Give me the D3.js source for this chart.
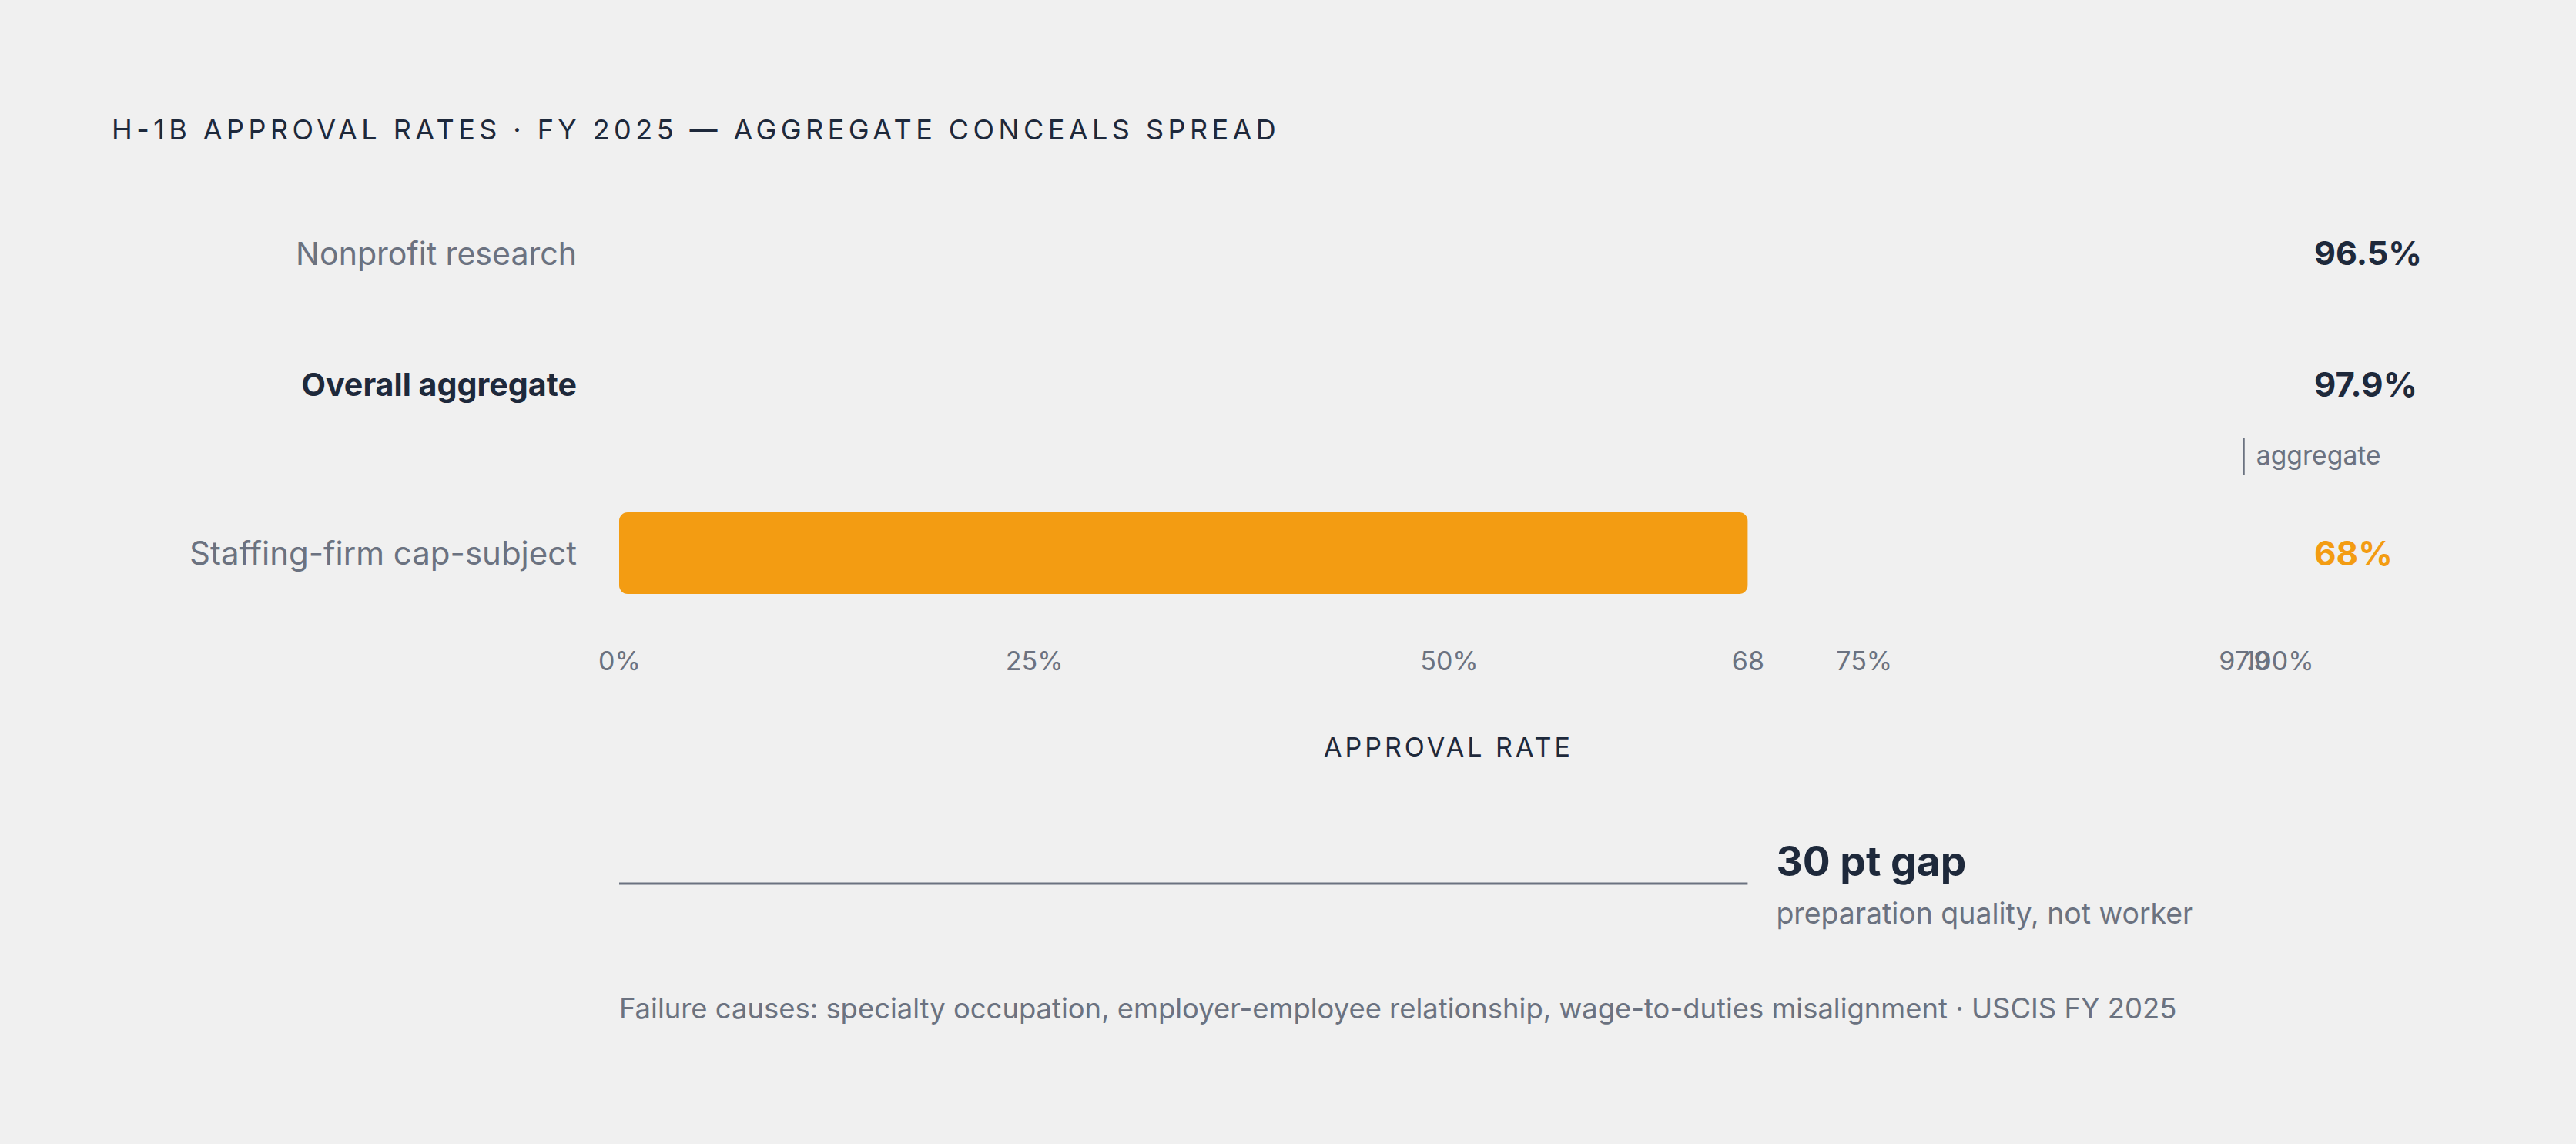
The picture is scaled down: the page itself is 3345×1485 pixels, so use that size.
<!DOCTYPE html>
<html>
<head>
<meta charset="utf-8">
<script src="https://cdn.jsdelivr.net/npm/d3@7"></script>
<style>
  html, body { margin: 0; padding: 0; background: #f0f0f0; }
  svg { display: block; }
  text { font-family: Inter, "Noto Sans", "DejaVu Sans", sans-serif; }
</style>
</head>
<body>
<svg id="chart" width="3345" height="1485"></svg>
<script>
// ---- data ----
const title = "H-1B APPROVAL RATES · FY 2025 — AGGREGATE CONCEALS SPREAD";
const categories = ["Nonprofit research", "Overall aggregate", "Staffing-firm cap-subject"];
const values = [96.5, 97.9, 68];
const valueLabels = ["96.5%", "97.9%", "68%"];
const highlighted = [false, false, true];
const emphasised = [false, true, false];
const axisTicks = [0, 25, 50, 75, 100];
const markerTicks = [68, 97.9];
const aggregateLabel = "aggregate";
const axisTitle = "APPROVAL RATE";
const gapSubtitle = "preparation quality, not worker";
const footnote = "Failure causes: specialty occupation, employer-employee relationship, wage-to-duties misalignment · USCIS FY 2025";

// ---- style ----
const BG = "#f0f0f0", DARK = "#1e293b", GRAY = "#6b7280", ORANGE = "#f39c12";

const svg = d3.select("#chart");
svg.append("rect").attr("width", 3345).attr("height", 1485).attr("fill", BG);

const x = d3.scaleLinear().domain([0, 100]).range([804, 2959]);
const y = d3.scaleOrdinal().domain(categories).range([329, 499, 718]);
const barH = 106;

function fit(sel, target) {
  const w = sel.node().getComputedTextLength();
  const fs = parseFloat(sel.attr("font-size"));
  sel.attr("font-size", fs * target / w);
  return sel;
}

// title
svg.append("text")
  .attr("x", 145).attr("y", 181)
  .attr("font-size", 36).attr("fill", DARK)
  .attr("letter-spacing", "0.2em")
  .attr("textLength", 1519).attr("lengthAdjust", "spacing")
  .text(title);

const rows = categories.map((c, i) => ({ c, v: values[i], label: valueLabels[i], hi: highlighted[i], em: emphasised[i] }));

// bars
svg.append("g").selectAll("rect").data(rows).join("rect")
  .attr("x", x(0))
  .attr("y", d => y(d.c) - barH / 2)
  .attr("width", d => x(d.v) - x(0))
  .attr("height", barH)
  .attr("rx", 11)
  .attr("fill", d => d.hi ? ORANGE : BG);

// row labels
const widthsLab = [365, 358, 503];
svg.append("g").selectAll("text").data(rows).join("text")
  .attr("x", 749)
  .attr("text-anchor", "end")
  .attr("font-size", 34)
  .attr("font-weight", d => d.em ? 700 : 400)
  .attr("fill", d => d.em ? DARK : GRAY)
  .text(d => d.c)
  .each(function (d, i) {
    const s = d3.select(this); fit(s, widthsLab[i]);
    s.attr("y", y(d.c) + 0.36 * parseFloat(s.attr("font-size")));
  });

// value labels
const widthsVal = [140, 134, 102];
svg.append("g").selectAll("text").data(rows).join("text")
  .attr("x", 3005)
  .attr("font-size", 46)
  .attr("font-weight", 700)
  .attr("fill", d => d.hi ? ORANGE : DARK)
  .text(d => d.label)
  .each(function (d, i) {
    const s = d3.select(this); fit(s, widthsVal[i]);
    s.attr("y", y(d.c) + 0.36 * parseFloat(s.attr("font-size")));
  });

// aggregate marker
const aggX = x(values[1]);
svg.append("line")
  .attr("x1", aggX).attr("x2", aggX)
  .attr("y1", 568).attr("y2", 616)
  .attr("stroke", GRAY).attr("stroke-width", 2);
fit(svg.append("text")
  .attr("x", aggX + 16).attr("y", 603)
  .attr("font-size", 32).attr("fill", GRAY)
  .text(aggregateLabel), 162);

// axis
const allTicks = axisTicks.concat(markerTicks);
const axis = d3.axisBottom(x)
  .tickValues(allTicks)
  .tickSize(0)
  .tickFormat(d => markerTicks.includes(d) ? String(d) : d + "%");
const ag = svg.append("g").attr("transform", "translate(0,870)").call(axis);
ag.select(".domain").remove();
ag.selectAll(".tick line").remove();
ag.selectAll(".tick text")
  .attr("y", 0).attr("dy", 0)
  .attr("font-size", 34)
  .attr("font-family", "Inter, 'Noto Sans', sans-serif")
  .attr("fill", GRAY);

// axis title
svg.append("text")
  .attr("x", (x.range()[0] + x.range()[1]) / 2).attr("y", 982)
  .attr("text-anchor", "middle")
  .attr("font-size", 34).attr("fill", DARK)
  .attr("letter-spacing", "0.15em")
  .attr("textLength", 325).attr("lengthAdjust", "spacing")
  .text(axisTitle);

// gap annotation
svg.append("line")
  .attr("x1", x(0)).attr("x2", x(values[2]))
  .attr("y1", 1147).attr("y2", 1147)
  .attr("stroke", GRAY).attr("stroke-width", 3);
const gap = Math.round(values[1] - values[2]);
fit(svg.append("text")
  .attr("x", x(values[2]) + 37).attr("y", 1137)
  .attr("font-size", 52).attr("font-weight", 700).attr("fill", DARK)
  .text(gap + " pt gap"), 247);
fit(svg.append("text")
  .attr("x", x(values[2]) + 37).attr("y", 1199)
  .attr("font-size", 36).attr("fill", GRAY)
  .text(gapSubtitle), 542);

// footnote
fit(svg.append("text")
  .attr("x", x(0)).attr("y", 1322)
  .attr("font-size", 34).attr("fill", GRAY)
  .text(footnote), 2023);
</script>
</body>
</html>
